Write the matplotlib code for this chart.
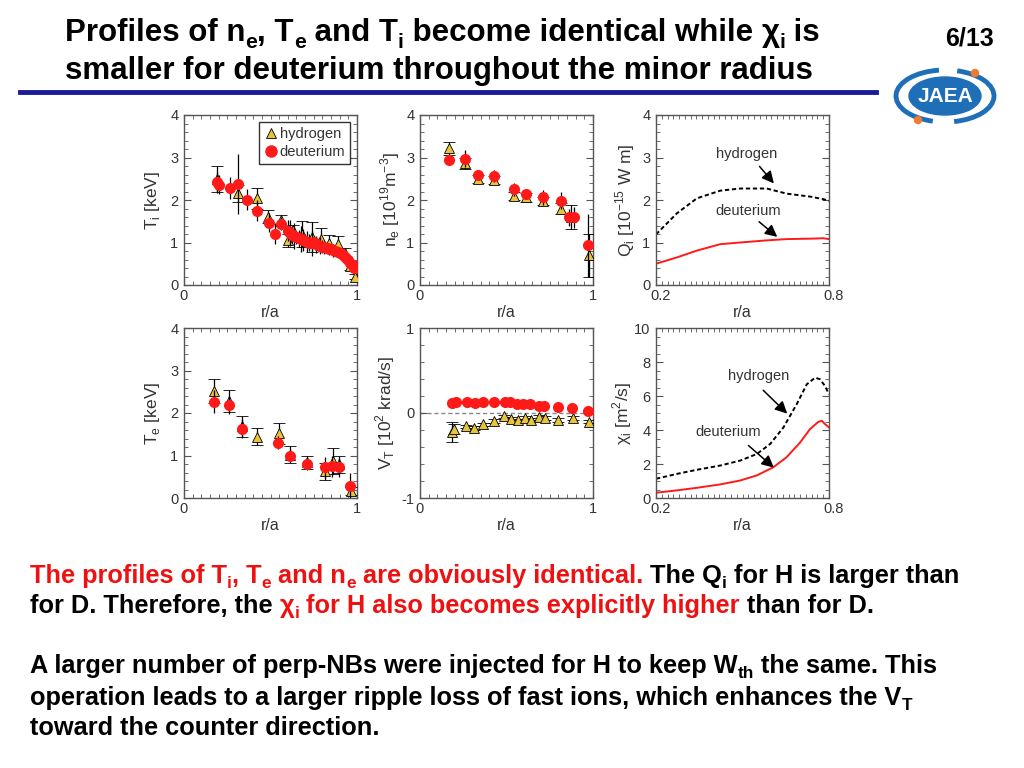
import matplotlib
matplotlib.use("Agg")
import matplotlib.pyplot as plt
import matplotlib.patches as mpatches
from matplotlib.transforms import IdentityTransform, ScaledTranslation
from matplotlib.ticker import MultipleLocator, FixedLocator

plt.rcParams['font.family'] = ['Liberation Sans', 'DejaVu Sans']
plt.rcParams['axes.unicode_minus'] = False

# ── data ────────────────────────────────────────────────────────────────────
# T_i panel
ti_d_r = [0.188, 0.203, 0.268, 0.312, 0.364, 0.423, 0.490, 0.527, 0.561,
          0.600, 0.612, 0.625, 0.638, 0.650, 0.662, 0.675, 0.688, 0.700,
          0.712, 0.725, 0.738, 0.750, 0.762, 0.775, 0.788, 0.800, 0.812,
          0.825, 0.838, 0.850, 0.862, 0.875, 0.888, 0.900, 0.912, 0.925,
          0.938, 0.950, 0.962, 0.975, 0.985]
ti_d = [2.42, 2.36, 2.28, 2.38, 2.01, 1.75, 1.47, 1.21, 1.44,
        1.28, 1.22, 1.18, 1.15, 1.12, 1.10, 1.08, 1.06, 1.04,
        1.02, 1.00, 0.98, 1.01, 0.96, 0.94, 0.92, 0.90, 0.89,
        0.87, 0.85, 0.84, 0.82, 0.80, 0.78, 0.75, 0.72, 0.68,
        0.63, 0.58, 0.52, 0.46, 0.40]
ti_d_err = [0.25, 0.22, 0.25, 0.70, 0.25, 0.25, 0.22, 0.25, 0.15,
            0.25, 0.30, 0.20, 0.30, 0.15, 0.20, 0.30, 0.25, 0.15,
            0.25, 0.20, 0.30, 0.15, 0.20, 0.15, 0.20, 0.15, 0.15,
            0.12, 0.15, 0.12, 0.15, 0.12, 0.10, 0.10, 0.10, 0.08,
            0.08, 0.08, 0.06, 0.06, 0.05]
ti_h_r = [0.19, 0.312, 0.421, 0.485, 0.56, 0.60, 0.63, 0.68, 0.74, 0.79,
          0.84, 0.89, 0.93, 0.96, 0.99]
ti_h = [2.50, 2.16, 2.04, 1.61, 1.52, 1.05, 1.30, 1.20, 1.13, 1.08,
        0.98, 0.96, 0.75, 0.45, 0.20]
ti_h_err = [0.30, 0.20, 0.25, 0.15, 0.12, 0.15, 0.12, 0.30, 0.35, 0.25,
            0.20, 0.20, 0.12, 0.10, 0.05]

# n_e panel
ne_d_r = [0.168, 0.259, 0.338, 0.425, 0.544, 0.612, 0.710, 0.817, 0.863, 0.892, 0.971]
ne_d = [2.95, 2.97, 2.58, 2.56, 2.25, 2.14, 2.06, 1.98, 1.59, 1.59, 0.93]
ne_d_err = [0.12, 0.20, 0.12, 0.14, 0.15, 0.12, 0.18, 0.20, 0.20, 0.25, 0.75]
ne_h_r = [0.168, 0.259, 0.338, 0.425, 0.544, 0.612, 0.710, 0.817, 0.870, 0.975]
ne_h = [3.22, 2.86, 2.49, 2.47, 2.10, 2.06, 1.98, 1.80, 1.60, 0.70]
ne_h_err = [0.15, 0.12, 0.10, 0.10, 0.10, 0.10, 0.10, 0.12, 0.28, 0.50]

# Q_i panel
q_r = [0.20, 0.273, 0.342, 0.423, 0.492, 0.584, 0.653, 0.734, 0.780, 0.80]
q_h = [1.19, 1.69, 2.04, 2.22, 2.27, 2.27, 2.15, 2.08, 2.02, 1.98]
q_d = [0.50, 0.65, 0.81, 0.96, 1.00, 1.05, 1.08, 1.09, 1.10, 1.08]

# T_e panel
te_d_r = [0.171, 0.258, 0.337, 0.546, 0.613, 0.712, 0.815, 0.856, 0.894, 0.962]
te_d = [2.27, 2.19, 1.63, 1.30, 1.00, 0.80, 0.72, 0.75, 0.72, 0.28]
te_d_err = [0.28, 0.22, 0.22, 0.15, 0.15, 0.15, 0.25, 0.25, 0.22, 0.30]
te_h_r = [0.171, 0.258, 0.337, 0.423, 0.552, 0.613, 0.712, 0.815, 0.860, 0.894, 0.965]
te_h = [2.52, 2.28, 1.69, 1.44, 1.52, 1.02, 0.84, 0.63, 0.87, 0.80, 0.17]
te_h_err = [0.28, 0.25, 0.25, 0.20, 0.25, 0.20, 0.15, 0.20, 0.30, 0.20, 0.10]

# V_T panel
vt_d_r = [0.183, 0.208, 0.270, 0.319, 0.367, 0.425, 0.492, 0.521, 0.560, 0.598,
          0.637, 0.685, 0.714, 0.797, 0.878, 0.969]
vt_d = [0.115, 0.127, 0.127, 0.115, 0.127, 0.135, 0.135, 0.127, 0.108, 0.108,
        0.108, 0.088, 0.088, 0.068, 0.057, 0.022]
vt_h_r = [0.183, 0.197, 0.266, 0.315, 0.363, 0.425, 0.488, 0.527, 0.566, 0.608,
          0.643, 0.685, 0.720, 0.797, 0.884, 0.975]
vt_h = [-0.225, -0.186, -0.158, -0.178, -0.135, -0.096, -0.041, -0.068, -0.088,
        -0.057, -0.080, -0.049, -0.057, -0.080, -0.061, -0.100]
vt_h_err = [0.12, 0.06, 0.02, 0.02, 0.02, 0.02, 0.02, 0.02, 0.02,
            0.02, 0.02, 0.03, 0.02, 0.02, 0.02, 0.02]

# chi_i panel
chi_h_r = [0.20, 0.273, 0.342, 0.423, 0.492, 0.550, 0.596, 0.642, 0.688, 0.723,
           0.752, 0.769, 0.786, 0.80]
chi_h = [1.13, 1.42, 1.66, 1.91, 2.20, 2.59, 3.18, 4.15, 5.52, 6.69,
         7.08, 6.98, 6.59, 6.10]
chi_d_r = [0.20, 0.273, 0.342, 0.423, 0.492, 0.550, 0.607, 0.653, 0.700, 0.734,
           0.763, 0.775, 0.786, 0.80]
chi_d = [0.31, 0.45, 0.60, 0.80, 1.03, 1.33, 1.81, 2.40, 3.27, 4.05,
         4.48, 4.54, 4.35, 4.15]

# ── style ───────────────────────────────────────────────────────────────────
W, H = 1024, 768
RED = "#ff1a1a"
YEL = "#e6c43c"
TXT_RED = "#ee1111"
AX_W, AX_H = 173, 170
LEFTS = [184, 420, 656]
TOPS = [115, 328]

fig = plt.figure(figsize=(W / 100, H / 100), dpi=100)
fig.patch.set_facecolor("white")


def make_ax(col, row):
    l, t = LEFTS[col], TOPS[row]
    ax = fig.add_axes([l / W, 1 - (t + AX_H) / H, AX_W / W, AX_H / H])
    for s in ax.spines.values():
        s.set_color("#555555")
        s.set_linewidth(1.0)
    ax.tick_params(which="both", direction="in", top=True, right=True,
                   color="#555555", labelsize=10.5, labelcolor="#333333")
    ax.tick_params(axis="y", pad=4)
    ax.tick_params(axis="x", pad=3)
    ax.tick_params(which="major", length=5)
    ax.tick_params(which="minor", length=3)
    return ax


def style_frac(ax, ymax, ymin=0, yminor=0.2):
    ax.set_xlim(0, 1)
    ax.set_ylim(ymin, ymax)
    ax.xaxis.set_major_locator(FixedLocator([0, 1]))
    ax.xaxis.set_minor_locator(MultipleLocator(0.05))
    ax.yaxis.set_major_locator(MultipleLocator(1))
    ax.yaxis.set_minor_locator(MultipleLocator(yminor))
    ax.set_xlabel("r/a", fontsize=11.5, color="#333333", labelpad=1)


def style_prof(ax, ymax, ystep, yminor):
    ax.set_xlim(0.2, 0.8)
    ax.set_ylim(0, ymax)
    ax.xaxis.set_major_locator(FixedLocator([0.2, 0.8]))
    ax.xaxis.set_minor_locator(MultipleLocator(0.02))
    ax.yaxis.set_major_locator(MultipleLocator(ystep))
    ax.yaxis.set_minor_locator(MultipleLocator(yminor))
    ax.set_xlabel("r/a", fontsize=11.5, color="#333333", labelpad=1)
    # x labels sit a little to the right, like the original
    shift = ScaledTranslation(5 / 100, 0, fig.dpi_scale_trans)
    for lab in ax.get_xticklabels():
        lab.set_transform(lab.get_transform() + shift)


EB = dict(ecolor="black", elinewidth=0.9, capsize=4, capthick=0.9, ls="none")


def pts(ax, rh, h, eh, rd, d, ed):
    ax.errorbar(rh, h, yerr=eh, marker="^", ms=7.5, mfc=YEL, mec="black",
                mew=0.6, zorder=3, **EB)
    ax.errorbar(rd, d, yerr=ed, marker="o", ms=8, mfc=RED, mec=RED,
                mew=0, zorder=4, **EB)


YL = dict(fontsize=12.5, color="#333333")

# T_i
ax1 = make_ax(0, 0)
style_frac(ax1, 4)
pts(ax1, ti_h_r, ti_h, ti_h_err, ti_d_r, ti_d, ti_d_err)
ax1.set_ylabel("T$_\\mathregular{i}$ [keV]", labelpad=6, **YL)
hh = plt.Line2D([], [], ls="none", marker="^", ms=7.5, mfc=YEL, mec="black", mew=0.6)
hd = plt.Line2D([], [], ls="none", marker="o", ms=8, mfc=RED, mec=RED)
leg = ax1.legend([hh, hd], ["hydrogen", "deuterium"], loc="upper right",
                 fontsize=10.5, frameon=True, fancybox=False, handletextpad=0.1,
                 handlelength=1.0, borderpad=0.35, labelspacing=0.3,
                 borderaxespad=0.45)
leg.get_frame().set_edgecolor("black")
leg.get_frame().set_linewidth(1.0)
for t in leg.get_texts():
    t.set_color("#333333")

# n_e
ax2 = make_ax(1, 0)
style_frac(ax2, 4)
pts(ax2, ne_h_r, ne_h, ne_h_err, ne_d_r, ne_d, ne_d_err)
ax2.set_ylabel("n$_\\mathregular{e}$ [10$^\\mathregular{19}$m$^\\mathregular{-3}$]",
               labelpad=3, **YL)

# Q_i
ax3 = make_ax(2, 0)
style_prof(ax3, 4, 1, 0.2)
ax3.plot(q_r, q_h, color="black", lw=1.4, ls=(0, (2.2, 1.4)))
ax3.plot(q_r, q_d, color=RED, lw=1.4)
ax3.set_ylabel("Q$_\\mathregular{i}$ [10$^\\mathregular{-15}$ W m]", labelpad=4, **YL)
ARR = dict(arrowstyle="-|>", color="black", lw=1.1, mutation_scale=18)
ax3.text(0.515, 3.08, "hydrogen", ha="center", va="center", fontsize=10.5, color="#333333")
ax3.annotate("", xy=(0.615, 2.34), xytext=(0.553, 2.84), arrowprops=ARR)
ax3.text(0.521, 1.75, "deuterium", ha="center", va="center", fontsize=10.5, color="#333333")
ax3.annotate("", xy=(0.628, 1.09), xytext=(0.550, 1.53), arrowprops=ARR)

# T_e
ax4 = make_ax(0, 1)
style_frac(ax4, 4)
pts(ax4, te_h_r, te_h, te_h_err, te_d_r, te_d, te_d_err)
ax4.set_ylabel("T$_\\mathregular{e}$ [keV]", labelpad=6, **YL)

# V_T
ax5 = make_ax(1, 1)
style_frac(ax5, 1, ymin=-1, yminor=0.2)
ax5.axhline(0, color="#888888", lw=1.0, ls=(0, (3, 2)), zorder=1)
pts(ax5, vt_h_r, vt_h, vt_h_err, vt_d_r, vt_d, [0] * len(vt_d))
ax5.set_ylabel("V$_\\mathregular{T}$ [10$^\\mathregular{2}$ krad/s]", labelpad=3, **YL)

# chi_i
ax6 = make_ax(2, 1)
style_prof(ax6, 10, 2, 0.5)
ax6.plot(chi_h_r, chi_h, color="black", lw=1.4, ls=(0, (2.2, 1.4)))
ax6.plot(chi_d_r, chi_d, color=RED, lw=1.4)
ax6.set_ylabel("χ$_\\mathregular{i}$ [m$^\\mathregular{2}$/s]", labelpad=0, **YL)
ax6.text(0.555, 7.17, "hydrogen", ha="center", va="center", fontsize=10.5, color="#333333")
ax6.annotate("", xy=(0.662, 4.85), xytext=(0.565, 6.45), arrowprops=ARR)
ax6.text(0.452, 3.86, "deuterium", ha="center", va="center", fontsize=10.5, color="#333333")
ax6.annotate("", xy=(0.616, 1.68), xytext=(0.513, 3.2), arrowprops=ARR)

# ── slide text ──────────────────────────────────────────────────────────────
renderer = fig.canvas.get_renderer()


def seg_width(txt, **kw):
    a = fig.text(0, 0, "x" + txt + "x", transform=IdentityTransform(), **kw)
    b = fig.text(0, 0, "xx", transform=IdentityTransform(), **kw)
    w = a.get_window_extent(renderer).width - b.get_window_extent(renderer).width
    a.remove()
    b.remove()
    return w


def rich_line(x, y_img, parts, size, weight="bold"):
    y = H - y_img
    for p in parts:
        txt, col = p[0], p[1]
        sub = len(p) > 2
        fs = size * 0.68 if sub else size
        dy = -size * 0.30 if sub else 0
        kw = dict(fontsize=fs, color=col, fontweight=weight)
        fig.text(x, y + dy, txt, transform=IdentityTransform(),
                 va="baseline", ha="left", **kw)
        x += seg_width(txt, **kw)


K = "black"
TS = 22.5
rich_line(65, 41, [("Profiles of n", K), ("e", K, 1), (", T", K), ("e", K, 1),
                   (" and T", K), ("i", K, 1), (" become identical while ", K),
                   ("χ", K), ("i", K, 1), (" is", K)], TS)
rich_line(65, 79, [("smaller for deuterium throughout the minor radius", K)], TS)
fig.text(970, H - 46, "6/13", transform=IdentityTransform(), ha="center",
         va="baseline", fontsize=18, fontweight="bold")

# rule under title
fig.add_artist(plt.Line2D([20 / W, 876 / W], [1 - 92 / H, 1 - 92 / H],
                          color="#1a1a9a", lw=3.5))

# JAEA logo
LB = "#1f6fb8"
fig.add_artist(mpatches.Ellipse((945 / W, 1 - 96 / H), 72 / W, 38 / H,
                                color=LB, zorder=5))
fig.add_artist(mpatches.Arc((945 / W, 1 - 96 / H), 98 / W, 52 / H,
                            theta1=100, theta2=250, color=LB, lw=3.5, zorder=5))
fig.add_artist(mpatches.Arc((945 / W, 1 - 96 / H), 98 / W, 52 / H,
                            theta1=285, theta2=70, color=LB, lw=3.5, zorder=5))
fig.add_artist(mpatches.Ellipse((975 / W, 1 - 73 / H), 7 / W, 7 / H,
                                color="#f07a30", zorder=6))
fig.add_artist(mpatches.Ellipse((918 / W, 1 - 120 / H), 7 / W, 7 / H,
                                color="#f07a30", zorder=6))
fig.text(945 / W, 1 - 97 / H, "JAEA", ha="center", va="center", color="white",
         fontsize=15, fontweight="bold", zorder=7)

# body text
R = TXT_RED
BS = 18.3
rich_line(30, 583, [("The profiles of T", R), ("i", R, 1), (", T", R), ("e", R, 1),
                    (" and n", R), ("e", R, 1), (" are obviously identical.", R),
                    (" The Q", K), ("i", K, 1), (" for H is larger than", K)], BS)
rich_line(30, 613, [("for D. Therefore, the ", K), ("χ", R), ("i", R, 1),
                    (" for H also becomes explicitly higher", R), (" than for D.", K)], BS)
rich_line(30, 673, [("A larger number of perp-NBs were injected for H to keep W", K),
                    ("th", K, 1), (" the same. This", K)], BS)
rich_line(30, 705, [("operation leads to a larger ripple loss of fast ions, which enhances the V", K),
                    ("T", K, 1)], BS)
rich_line(30, 735, [("toward the counter direction.", K)], BS)

fig.savefig("out.png", dpi=100)
